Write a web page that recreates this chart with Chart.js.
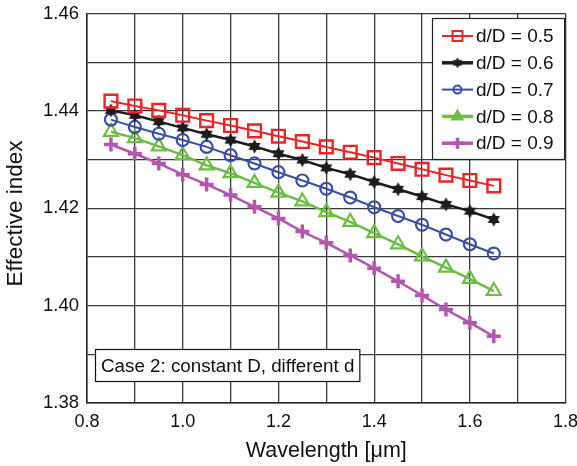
<!DOCTYPE html>
<html>
<head>
<meta charset="utf-8">
<script src="https://cdn.jsdelivr.net/npm/chart.js@4/dist/chart.umd.min.js"></script>
<style>
    html, body { margin: 0; padding: 0; background: #fff; }
    #wrap { width: 577px; height: 466px; }
</style>
</head>
<body>
<div id="wrap"><canvas id="chart" width="577" height="466"></canvas></div>
<script>
// wavelength samples [um]
const wavelength = [0.85, 0.90, 0.95, 1.00, 1.05, 1.10, 1.15, 1.20, 1.25, 1.30, 1.35, 1.40, 1.45, 1.50, 1.55, 1.60, 1.65];

// effective index for each d/D ratio
const nEff05 = [1.4420, 1.4410, 1.4401, 1.4391, 1.4380, 1.4370, 1.4359, 1.4348, 1.4337, 1.4326, 1.4315, 1.4304, 1.4292, 1.4280, 1.4268, 1.4257, 1.4246];
const nEff06 = [1.4401, 1.4391, 1.4378, 1.4365, 1.4352, 1.4340, 1.4327, 1.4312, 1.4299, 1.4283, 1.4270, 1.4254, 1.4239, 1.4224, 1.4208, 1.4194, 1.4177];
const nEff07 = [1.4382, 1.4367, 1.4353, 1.4340, 1.4326, 1.4309, 1.4292, 1.4274, 1.4257, 1.4240, 1.4222, 1.4202, 1.4184, 1.4166, 1.4146, 1.4126, 1.4107];
const nEff08 = [1.4357, 1.4344, 1.4327, 1.4309, 1.4288, 1.4272, 1.4252, 1.4232, 1.4214, 1.4192, 1.4172, 1.4149, 1.4126, 1.4101, 1.4078, 1.4055, 1.4030];
const nEff09 = [1.4331, 1.4312, 1.4292, 1.4269, 1.4249, 1.4227, 1.4203, 1.4179, 1.4152, 1.4129, 1.4103, 1.4077, 1.4050, 1.4021, 1.3992, 1.3965, 1.3937];

const seriesLabels = ['d/D = 0.5', 'd/D = 0.6', 'd/D = 0.7', 'd/D = 0.8', 'd/D = 0.9'];
const seriesValues = [nEff05, nEff06, nEff07, nEff08, nEff09];

const xTicks = [0.8, 1.0, 1.2, 1.4, 1.6, 1.8];
const yTicks = [1.38, 1.40, 1.42, 1.44, 1.46];

const yTitle   = 'Effective index';
const caseNote = 'Case 2: constant D, different d';

const FONT = '"Liberation Sans", Arial, sans-serif';

// filled six-pointed star, used as point image
function hexagram (size, color)
{
    const c   = document.createElement('canvas');
    c.width   = size;
    c.height  = size;
    const g   = c.getContext('2d');
    const r   = size / 2 - 0.5;
    const cx  = size / 2;
    g.fillStyle = color;
    for (let k = 0; k < 2; ++k) {
        g.beginPath();
        for (let i = 0; i < 3; ++i) {
            const a = -Math.PI / 2 + k * Math.PI / 3 + i * 2 * Math.PI / 3;
            const px = cx + r * Math.cos(a);
            const py = cx + r * Math.sin(a);
            i === 0 ? g.moveTo(px, py) : g.lineTo(px, py);
        }
        g.closePath();
        g.fill();
    }

    return c;
}

const starBig   = hexagram(15, '#1c1c1c');
const starSmall = hexagram(12, '#1c1c1c');

const styles = [
    {color: '#ec2327', point: 'rect',     radius: 9,   width: 2.4, fill: 'rgba(255,255,255,0)', lineWidth: 2},
    {color: '#1c1c1c', point: starBig,    radius: 7,   width: 1,   fill: '#1c1c1c',             lineWidth: 2.5},
    {color: '#3a4ea6', point: 'circle',   radius: 6,   width: 2.2, fill: 'rgba(255,255,255,0)', lineWidth: 2},
    {color: '#6cbd45', point: 'triangle', radius: 8,   width: 2.2, fill: 'rgba(255,255,255,0)', lineWidth: 2.5},
    {color: '#b456ae', point: 'cross',    radius: 7,   width: 3.5, fill: '#b456ae',             lineWidth: 2.5}
];

const legendPoints = [
    {point: 'rect',     radius: 7,   width: 2,   fill: 'rgba(255,255,255,0)'},
    {point: starSmall,  radius: 6,   width: 1,   fill: '#1c1c1c'},
    {point: 'circle',   radius: 4,   width: 2,   fill: 'rgba(255,255,255,0)'},
    {point: 'triangle', radius: 6,   width: 2,   fill: '#6cbd45'},
    {point: 'cross',    radius: 5.5, width: 3.5, fill: '#b456ae'}
];

const datasets = seriesValues.map((vals, i) => ({
    label: seriesLabels[i],
    data: wavelength.map((w, j) => ({x: w, y: vals[j]})),
    showLine: true,
    borderColor: styles[i].color,
    borderWidth: styles[i].lineWidth,
    pointStyle: styles[i].point,
    pointRadius: styles[i].radius,
    pointBorderWidth: styles[i].width,
    pointBorderColor: styles[i].color,
    pointBackgroundColor: styles[i].fill,
    tension: 0
}));

// legend box in the upper right corner, the note box and the y title
const boxesPlugin = {
    id: 'boxes',
    afterDatasetsDraw (chart)
    {
        const ctx  = chart.ctx;
        const area = chart.chartArea;

        ctx.save();

        // legend
        const lx = 432.5, ly = 18.5, lw = area.right - 1 - 432.5, lh = 141;
        ctx.fillStyle = '#fff';
        ctx.fillRect(lx, ly, lw, lh);
        ctx.strokeStyle = '#222';
        ctx.lineWidth = 1.2;
        ctx.strokeRect(lx, ly, lw, lh);

        ctx.font = '19px ' + FONT;
        ctx.textBaseline = 'middle';
        ctx.textAlign = 'left';

        for (let i = 0; i < seriesLabels.length; ++i) {
            const cy = 36 + i * 26.8;
            ctx.strokeStyle = styles[i].color;
            ctx.lineWidth = i === 0 || i === 2 ? 2 : 3.5;
            ctx.beginPath();
            ctx.moveTo(442, cy);
            ctx.lineTo(473, cy);
            ctx.stroke();

            ctx.fillStyle = legendPoints[i].fill;
            ctx.strokeStyle = styles[i].color;
            ctx.lineWidth = legendPoints[i].width;
            Chart.helpers.drawPoint(ctx, {
                pointStyle: legendPoints[i].point,
                radius: legendPoints[i].radius,
                rotation: 0,
                borderWidth: legendPoints[i].width
            }, 457.5, cy);

            ctx.fillStyle = '#111';
            ctx.fillText(seriesLabels[i], 476, cy + 1);
        }

        // note
        ctx.font = '18.8px ' + FONT;
        const tw = ctx.measureText(caseNote).width;
        const nx = 95.5, ny = 349.5, nh = 32;
        ctx.fillStyle = '#fff';
        ctx.fillRect(nx, ny, tw + 11, nh);
        ctx.strokeStyle = '#111';
        ctx.lineWidth = 1.2;
        ctx.strokeRect(nx, ny, tw + 11, nh);
        ctx.fillStyle = '#111';
        ctx.fillText(caseNote, nx + 5.5, ny + nh / 2 + 1);

        // y title
        ctx.translate(16, 213.5);
        ctx.rotate(-Math.PI / 2);
        ctx.font = '22.5px ' + FONT;
        ctx.textAlign = 'center';
        ctx.fillText(yTitle, 0, 0);

        ctx.restore();
    }
};

new Chart(document.getElementById('chart').getContext('2d'), {
    type: 'scatter',
    data: {datasets: datasets},
    plugins: [boxesPlugin],
    options: {
        responsive: false,
        animation: false,
        devicePixelRatio: 1,
        layout: {padding: {left: 0, right: 11, top: 13.5, bottom: 0}},
        plugins: {
            legend: {display: false},
            tooltip: {enabled: false}
        },
        scales: {
            x: {
                type: 'linear',
                min: 0.8,
                max: 1.8,
                afterFit: (scale) => {
                    scale.height       = 63;
                    scale.paddingLeft  = 0;
                    scale.paddingRight = 0;
                },
                ticks: {
                    stepSize: 0.1,
                    padding: 8,
                    maxRotation: 0,
                    autoSkip: false,
                    color: '#111',
                    font: {family: FONT, size: 18},
                    callback: (v) => xTicks.some((t) => Math.abs(t - v) < 1e-6) ? v.toFixed(1) : ''
                },
                grid: {color: '#3a3a3a', lineWidth: 1.3, drawTicks: false},
                border: {color: '#222', width: 1.5},
                title: {
                    display: true,
                    text: 'Wavelength [μm]',
                    color: '#111',
                    font: {family: FONT, size: 21.5},
                    padding: {top: 0, bottom: 2}
                }
            },
            y: {
                type: 'linear',
                min: 1.38,
                max: 1.46,
                afterFit: (scale) => {
                    scale.width         = 87;
                    scale.paddingTop    = 0;
                    scale.paddingBottom = 0;
                },
                ticks: {
                    stepSize: 0.01,
                    padding: 8,
                    autoSkip: false,
                    color: '#111',
                    font: {family: FONT, size: 18.5},
                    callback: (v) => yTicks.some((t) => Math.abs(t - v) < 1e-6) ? v.toFixed(2) : ''
                },
                grid: {color: '#3a3a3a', lineWidth: 1.3, drawTicks: false},
                border: {color: '#222', width: 1.5}
            }
        }
    }
});
</script>
</body>
</html>
